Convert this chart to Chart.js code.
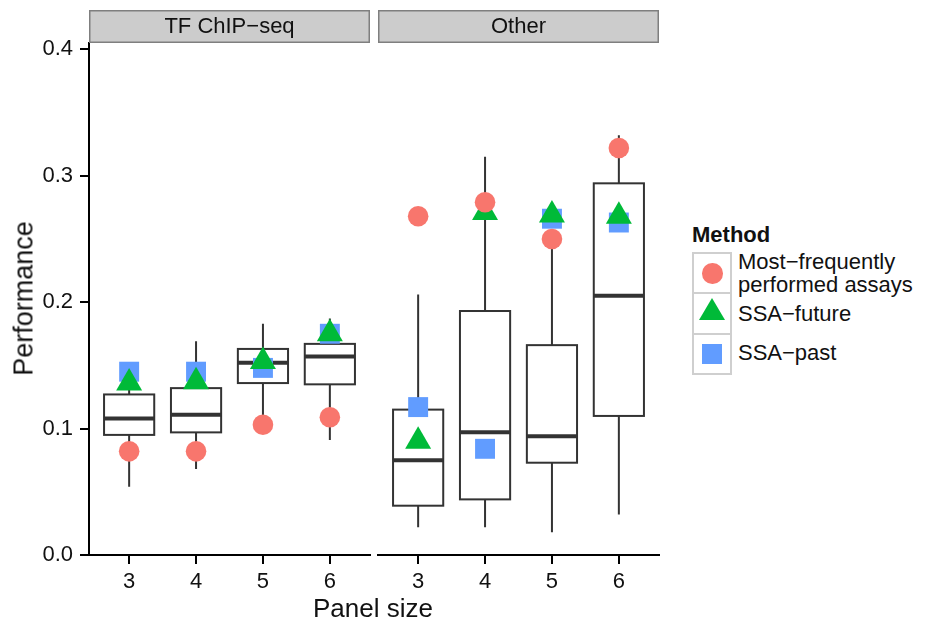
<!DOCTYPE html>
<html>
<head>
<meta charset="utf-8">
<script src="https://cdn.jsdelivr.net/npm/chart.js@4.4.1/dist/chart.umd.min.js"></script>
<style>
  body { margin: 0; background: #fff; }
  #wrap { position: relative; width: 925px; height: 627px; overflow: hidden;
          font-family: "Liberation Sans", Arial, sans-serif; color: #111; }
  canvas { position: absolute; top: 0; }
  .txt { position: absolute; white-space: nowrap; }
  .key { position: absolute; left: 692px; width: 40px; box-sizing: border-box;
         border: 2px solid #cfcfcf; background: #fff; }
  .mark { position: absolute; }
</style>
</head>
<body>
<div id="wrap">
  <canvas id="tfChart" width="372" height="627" style="left:0"></canvas>
  <canvas id="otherChart" width="290" height="627" style="left:372px"></canvas>

  <div class="txt" style="left:-96px;top:285px;width:240px;text-align:center;font-size:27px;line-height:27px;transform:rotate(-90deg)">Performance</div>
  <div class="txt" style="left:253px;top:595px;width:240px;text-align:center;font-size:26px;line-height:26px">Panel size</div>

  <div class="txt" style="left:692px;top:224px;font-size:22px;line-height:22px;font-weight:bold">Method</div>
  <div class="key" style="top:252px;height:42px"></div>
  <div class="key" style="top:292px;height:43px"></div>
  <div class="key" style="top:333px;height:42px"></div>
  <div class="mark" style="left:702px;top:263px;width:20.5px;height:20.5px;border-radius:50%;background:#F8766D"></div>
  <div class="mark" style="left:699px;top:298px;width:0;height:0;border-left:13.3px solid transparent;border-right:13.3px solid transparent;border-bottom:22.7px solid #00BA38"></div>
  <div class="mark" style="left:702px;top:344px;width:20px;height:20px;background:#619CFF"></div>
  <div class="txt" style="left:738px;top:251px;font-size:22px;line-height:22px">Most−frequently</div>
  <div class="txt" style="left:738px;top:274px;font-size:22px;line-height:22px">performed assays</div>
  <div class="txt" style="left:738px;top:303px;font-size:22px;line-height:22px">SSA−future</div>
  <div class="txt" style="left:738px;top:342px;font-size:22px;line-height:22px">SSA−past</div>
</div>

<script>
// Panel size categories shared by both facets
const panelSizes = ['3', '4', '5', '6'];
const yTicks = [0, 0.1, 0.2, 0.3, 0.4];

// Box stats per panel size: [lower whisker, q1, median, q3, upper whisker]
const tfBoxes = [
  [0.054, 0.095, 0.108, 0.127, 0.135],
  [0.068, 0.097, 0.111, 0.132, 0.169],
  [0.103, 0.136, 0.152, 0.163, 0.183],
  [0.091, 0.135, 0.157, 0.167, 0.187]
];
const otherBoxes = [
  [0.022, 0.039, 0.075, 0.115, 0.206],
  [0.022, 0.044, 0.097, 0.193, 0.315],
  [0.018, 0.073, 0.094, 0.166, 0.250],
  [0.032, 0.110, 0.205, 0.294, 0.332]
];

// Method scores, TF ChIP-seq facet
const tfMostFrequent = [0.082, 0.082, 0.103, 0.109];
const tfSsaFuture = [0.136, 0.137, 0.153, 0.175];
const tfSsaPast = [0.145, 0.145, 0.148, 0.175];

// Method scores, Other facet
const otherMostFrequent = [0.268, 0.279, 0.250, 0.322];
const otherSsaFuture = [0.090, 0.271, 0.269, 0.268];
const otherSsaPast = [0.117, 0.084, 0.266, 0.263];

const FONT = 'Liberation Sans';
const INK = '#111';
const BOX_LINE = '#333333';

function toPoints(values) {
  return values.map((v, i) => ({ x: i + 1, y: v }));
}

function panelChart(canvasId, stripLabel, boxes, mostFrequent, ssaFuture, ssaPast, showY, padding) {
  // boxplots go under the points
  const boxPlugin = {
    id: 'boxes',
    beforeDatasetsDraw(chart) {
      const { ctx, scales: { x, y } } = chart;
      ctx.save();
      ctx.strokeStyle = BOX_LINE;
      boxes.forEach((b, i) => {
        const xc = x.getPixelForValue(i + 1);
        const half = x.getPixelForValue(i + 1.375) - xc;
        const [lo, q1, med, q3, hi] = b.map(v => y.getPixelForValue(v));
        ctx.lineWidth = 2;
        ctx.beginPath();
        ctx.moveTo(xc, lo); ctx.lineTo(xc, q1);
        ctx.moveTo(xc, q3); ctx.lineTo(xc, hi);
        ctx.stroke();
        ctx.fillStyle = '#fff';
        ctx.fillRect(xc - half, q3, half * 2, q1 - q3);
        ctx.strokeRect(xc - half, q3, half * 2, q1 - q3);
        ctx.lineWidth = 4;
        ctx.beginPath();
        ctx.moveTo(xc - half, med); ctx.lineTo(xc + half, med);
        ctx.stroke();
      });
      ctx.restore();
    }
  };

  // facet strip above the plot area
  const stripPlugin = {
    id: 'strip',
    afterDraw(chart) {
      const { ctx, chartArea: { left, right } } = chart;
      ctx.save();
      ctx.fillStyle = '#cccccc';
      ctx.fillRect(left, 10, right - left, 33);
      ctx.strokeStyle = '#7f7f7f';
      ctx.lineWidth = 1.5;
      ctx.strokeRect(left + 0.75, 10.75, right - left - 1.5, 31.5);
      ctx.fillStyle = INK;
      ctx.font = `22px "${FONT}"`;
      ctx.textAlign = 'center';
      ctx.textBaseline = 'alphabetic';
      ctx.fillText(stripLabel, (left + right) / 2, 33);
      ctx.restore();
    }
  };

  return new Chart(document.getElementById(canvasId), {
    type: 'scatter',
    data: {
      datasets: [
        {
          label: 'Most−frequently performed assays',
          data: toPoints(mostFrequent),
          pointStyle: 'circle',
          pointRadius: 10.3,
          backgroundColor: '#F8766D',
          borderWidth: 0,
          order: 0
        },
        {
          label: 'SSA−future',
          data: toPoints(ssaFuture),
          pointStyle: 'triangle',
          pointRadius: 15,
          backgroundColor: '#00BA38',
          borderWidth: 0,
          order: 1
        },
        {
          label: 'SSA−past',
          data: toPoints(ssaPast),
          pointStyle: 'rect',
          pointRadius: 14.1,
          backgroundColor: '#619CFF',
          borderWidth: 0,
          order: 2
        }
      ]
    },
    options: {
      responsive: false,
      animation: false,
      events: [],
      clip: false,
      layout: { padding: padding, autoPadding: false },
      plugins: {
        legend: { display: false },
        tooltip: { enabled: false }
      },
      scales: {
        x: {
          type: 'linear',
          min: 0.4,
          max: 4.6,
          afterBuildTicks: (scale) => {
            scale.ticks = panelSizes.map((_, i) => ({ value: i + 1 }));
          },
          afterFit: (scale) => {
            scale.height = 72;
            scale.paddingLeft = 0;
            scale.paddingRight = 0;
          },
          ticks: {
            callback: (value, index) => panelSizes[index],
            font: { family: FONT, size: 22 },
            color: INK,
            padding: 5,
            maxRotation: 0
          },
          grid: { display: true, drawOnChartArea: false, drawTicks: true, tickLength: 9, color: '#000', lineWidth: 2 },
          border: { display: true, color: '#000', width: 2 }
        },
        y: {
          type: 'linear',
          display: showY,
          min: 0,
          max: 0.405,
          afterBuildTicks: (scale) => {
            scale.ticks = yTicks.map(v => ({ value: v }));
          },
          afterFit: (scale) => {
            scale.width = showY ? 89 : 0;
            scale.paddingTop = 0;
            scale.paddingBottom = 0;
          },
          ticks: {
            callback: (value) => value.toFixed(1),
            font: { family: FONT, size: 22 },
            color: INK,
            padding: 7
          },
          grid: { display: true, drawOnChartArea: false, drawTicks: true, tickLength: 9, color: '#000', lineWidth: 2 },
          border: { display: true, color: '#000', width: 2 }
        }
      }
    },
    plugins: [boxPlugin, stripPlugin]
  });
}

panelChart('tfChart', 'TF ChIP−seq', tfBoxes, tfMostFrequent, tfSsaFuture, tfSsaPast, true,
  { top: 43, right: 2, bottom: 0, left: 0 });
panelChart('otherChart', 'Other', otherBoxes, otherMostFrequent, otherSsaFuture, otherSsaPast, false,
  { top: 43, right: 3, bottom: 0, left: 6 });
</script>
</body>
</html>
